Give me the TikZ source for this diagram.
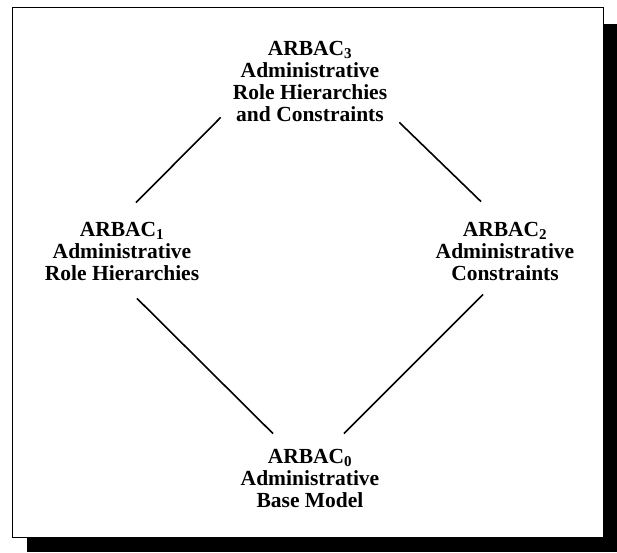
\documentclass[tikz,border=0pt]{standalone}
\usepackage{fontspec}
\setmainfont{Liberation Serif}
\usepackage{tikz}

\begin{document}
\begin{tikzpicture}[x=1pt, y=1pt,
model/.style={align=center,inner sep=0pt,font=\fontsize{21.5}{22}\selectfont\bfseries},
link/.style={line width=1.6pt}]
\useasboundingbox (0,0) rectangle (617,552);
\fill[black] (27,0) rectangle (617,528);
\filldraw[fill=white,draw=black,line width=0.8pt] (12,15) rectangle (603,545);
\node[model] (arbac3) at (310,471) {ARBAC\textsubscript{3}\\Administrative\\Role Hierarchies\\and Constraints};
\node[model] (arbac1) at (122,301) {ARBAC\textsubscript{1}\\Administrative\\Role Hierarchies};
\node[model] (arbac2) at (505,301) {ARBAC\textsubscript{2}\\Administrative\\Constraints};
\node[model] (arbac0) at (310,74) {ARBAC\textsubscript{0}\\Administrative\\Base Model};
\draw[link] ([xshift=-12pt,yshift=4pt]arbac3.south west) -- ([xshift=14pt,yshift=19pt]arbac1.north);
\draw[link] ([xshift=12pt,yshift=-1pt]arbac3.south east) -- ([xshift=-24pt,yshift=20pt]arbac2.north);
\draw[link] ([xshift=15pt,yshift=-18pt]arbac1.south) -- ([xshift=-37pt,yshift=15pt]arbac0.north);
\draw[link] ([xshift=-22pt,yshift=-14pt]arbac2.south) -- ([xshift=34pt,yshift=15pt]arbac0.north);
\end{tikzpicture}
\end{document}
